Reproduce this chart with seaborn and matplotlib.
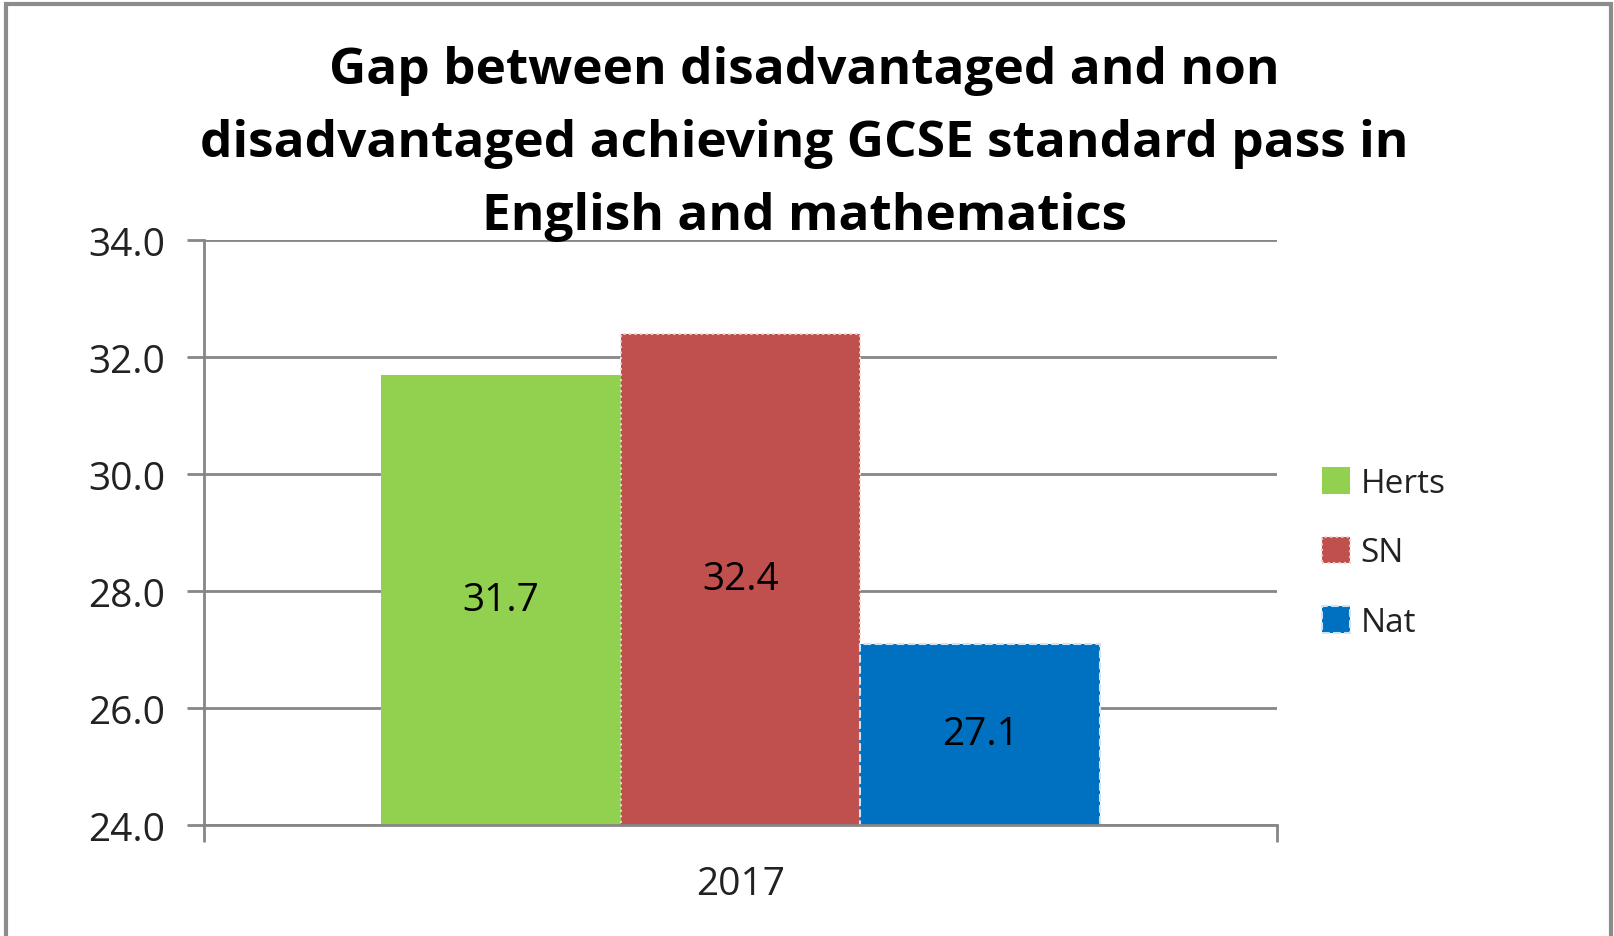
import matplotlib
matplotlib.use("Agg")
import matplotlib.pyplot as plt
import seaborn as sns
import pandas as pd
from matplotlib.patches import Rectangle

# data
years = ["2017"]
series = ["Herts", "SN", "Nat"]
values = [31.7, 32.4, 27.1]
colors = ["#92D050", "#C0504D", "#0070C0"]
y_ticks = [24.0, 26.0, 28.0, 30.0, 32.0, 34.0]

df = pd.DataFrame({"year": years * len(series), "series": series, "value": values})

sns.set_theme(style="white")
plt.rcParams["font.family"] = ["Open Sans", "DejaVu Sans"]

fig = plt.figure(figsize=(16.14, 9.37), dpi=100)
ax = fig.add_axes([204 / 1614, 1 - 826 / 937, (1277 - 204) / 1614, (826 - 241) / 937])

sns.barplot(data=df, x="year", y="value", hue="series", palette=colors,
            width=0.67, gap=0, saturation=1, legend=False, ax=ax)

ax.set_ylim(24, 34)
ax.set_xlim(-0.5, 0.5)
ax.set_yticks(y_ticks)
ax.set_yticklabels([f"{t:.1f}" for t in y_ticks])
ax.yaxis.grid(True, color="#868686", linewidth=2)
ax.set_axisbelow(True)

# edges like the original (dotted / dashed)
bars = ax.patches[:len(series)]
for p in bars:
    p.set_linewidth(0)
bars[1].set_edgecolor("#F2D0CF")
bars[1].set_linewidth(1.5)
bars[1].set_linestyle(":")
bars[2].set_edgecolor("#CFE3F3")
bars[2].set_linewidth(1.5)
bars[2].set_linestyle("--")

# value labels in the middle of the visible bar
ylow = ax.get_ylim()[0]
for p, v in zip(bars, values):
    ax.text(p.get_x() + p.get_width() / 2, (ylow + p.get_height()) / 2, f"{v:.1f}",
            ha="center", va="center", fontsize=28, color="black")

for s in ["top", "right"]:
    ax.spines[s].set_visible(False)
for s in ["left", "bottom"]:
    ax.spines[s].set_color("#868686")
    ax.spines[s].set_linewidth(2)

ax.tick_params(axis="y", left=True, length=12, width=2, color="#868686",
               labelsize=28, labelcolor="#222222", pad=16)
ax.tick_params(axis="x", bottom=False, labelsize=28, labelcolor="#222222", pad=23)
ax.set_xlabel("")
ax.set_ylabel("")

# ticks at both ends of the x axis
ax.set_xticks([-0.5, 0.5], minor=True)
ax.tick_params(axis="x", which="minor", bottom=True, length=12, width=2, color="#868686")

fig.text(0.4985, 1 - 144 / 937,
         "Gap between disadvantaged and non\ndisadvantaged achieving GCSE standard pass in\nEnglish and mathematics",
         ha="center", va="center", fontsize=37, fontweight="bold", color="black",
         linespacing=1.6)

leg = ax.legend(bars, series, loc="center left", bbox_to_anchor=(1.014, 0.465),
                frameon=False, fontsize=24, handlelength=0.85, handleheight=0.85,
                handletextpad=0.3, labelspacing=1.1)
for t in leg.get_texts():
    t.set_color("#222222")

# outer chart border
fig.patches.append(Rectangle((6 / 1614, -0.01), (1611 - 6) / 1614, 1.01 - 5 / 937,
                             transform=fig.transFigure, fill=False,
                             edgecolor="#8c8c8c", linewidth=3, clip_on=False))

fig.savefig("out.png", dpi=100)
